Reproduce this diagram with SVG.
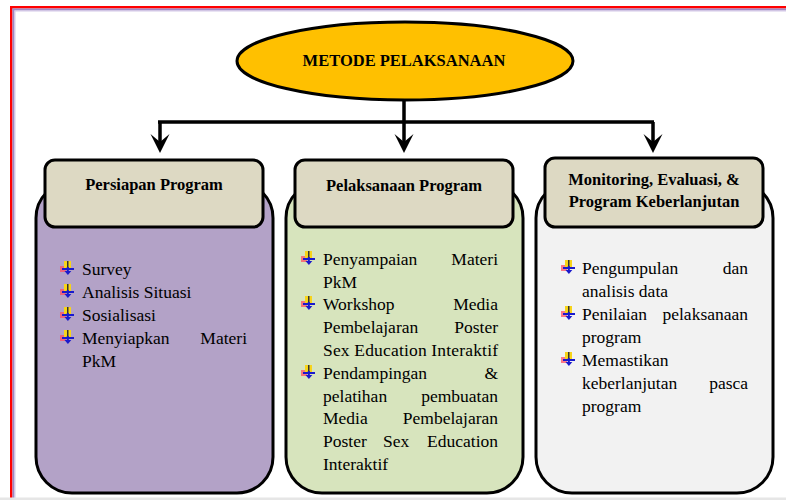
<svg xmlns="http://www.w3.org/2000/svg" xmlns:xlink="http://www.w3.org/1999/xlink" width="786" height="500" viewBox="0 0 786 500">
<style>
.hdr{fill:#DDD9C3;stroke:#000;stroke-width:3}
.box{stroke:#000;stroke-width:3}
.ht{font-family:"Liberation Serif","Times New Roman",serif;font-weight:bold;font-size:16.5px;fill:#000;text-anchor:middle}
.bt{font-family:"Liberation Serif","Times New Roman",serif;font-size:17.5px;fill:#000}
.e{text-anchor:end}
.conn{stroke:#000;stroke-width:3.5;fill:none}
</style>
<defs>
<g id="bul">
<rect x="1" y="-9" width="6" height="6" fill="#ff4f64" opacity="0.75"/>
<rect x="5" y="-14" width="7" height="7" fill="#f7d41a"/>
<rect x="8" y="-14" width="1.5" height="7" fill="#333"/>
<rect x="3" y="-7" width="12" height="2" fill="#1a1acc"/>
<rect x="7.8" y="-8" width="2" height="5" fill="#1a1acc"/>
<path d="M5.5,-4 L12.3,-4 L8.9,0 Z" fill="#1a1acc"/>
</g>
</defs>
<rect x="0" y="0" width="786" height="500" fill="#fff"/>
<!-- page border -->
<rect x="10" y="6" width="776" height="2.5" fill="#ff0000"/>
<rect x="10" y="6" width="2.5" height="494" fill="#ff0000"/>
<rect x="12.5" y="8.5" width="773.5" height="2" fill="#9e88c4"/>
<rect x="12.5" y="8.5" width="2" height="491.5" fill="#9e88c4"/>
<rect x="14.5" y="10.5" width="771.5" height="1" fill="#d4c8e8"/>
<rect x="14.5" y="10.5" width="1" height="489.5" fill="#d4c8e8"/>
<rect x="0" y="497.5" width="786" height="2.5" fill="#e6e6e6"/>

<g id="connectors">
<path class="conn" d="M404,100 V122 M158,122 H654 M160,122 V144 M404,122 V144 M653,122 V144"/>
<path d="M160,153 L150.5,134 L160,142 L169.5,134 Z" fill="#000"/>
<path d="M404,153 L394.5,134 L404,142 L413.5,134 Z" fill="#000"/>
<path d="M653,153 L643.5,134 L653,142 L662.5,134 Z" fill="#000"/>
</g>

<g id="root">
<ellipse cx="405" cy="61" rx="168" ry="39" fill="#FFC000" stroke="#000" stroke-width="3"/>
<text class="ht" x="404" y="66">METODE PELAKSANAAN</text>
</g>

<g id="persiapan">
<rect class="box" x="36" y="182" width="237" height="311" rx="36" ry="36" fill="#B3A2C7"/>
<rect class="hdr" x="45" y="160" width="218" height="67" rx="10" ry="10"/>
<text class="ht" x="154" y="190">Persiapan Program</text>
<use xlink:href="#bul" x="59" y="275"/>
<use xlink:href="#bul" x="59" y="298"/>
<use xlink:href="#bul" x="59" y="321"/>
<use xlink:href="#bul" x="59" y="344"/>
<text class="bt" x="82" y="275">Survey</text>
<text class="bt" x="82" y="298">Analisis Situasi</text>
<text class="bt" x="82" y="321">Sosialisasi</text>
<text class="bt" x="82" y="344">Menyiapkan</text>
<text class="bt e" x="247" y="344">Materi</text>
<text class="bt" x="82" y="367">PkM</text>
</g>

<g id="pelaksanaan">
<rect class="box" x="286" y="182" width="237" height="311" rx="36" ry="36" fill="#D7E4BD"/>
<rect class="hdr" x="295" y="160" width="218" height="67" rx="10" ry="10"/>
<text class="ht" x="404" y="191">Pelaksanaan Program</text>
<use xlink:href="#bul" x="300" y="265"/>
<use xlink:href="#bul" x="300" y="310"/>
<use xlink:href="#bul" x="300" y="379"/>
<text class="bt" x="323" y="265">Penyampaian</text>
<text class="bt e" x="498" y="265">Materi</text>
<text class="bt" x="323" y="288">PkM</text>
<text class="bt" x="323" y="310">Workshop</text>
<text class="bt e" x="498" y="310">Media</text>
<text class="bt" x="323" y="333">Pembelajaran</text>
<text class="bt e" x="498" y="333">Poster</text>
<text class="bt" x="323" y="356" textLength="175" lengthAdjust="spacing">Sex Education Interaktif</text>
<text class="bt" x="323" y="379">Pendampingan</text>
<text class="bt e" x="498" y="379">&amp;</text>
<text class="bt" x="323" y="402">pelatihan</text>
<text class="bt e" x="498" y="402">pembuatan</text>
<text class="bt" x="323" y="424">Media</text>
<text class="bt e" x="498" y="424">Pembelajaran</text>
<text class="bt" x="323" y="447">Poster</text>
<text class="bt" x="383" y="447">Sex</text>
<text class="bt e" x="498" y="447">Education</text>
<text class="bt" x="323" y="470">Interaktif</text>
</g>

<g id="monitoring">
<rect class="box" x="536" y="182" width="237" height="311" rx="36" ry="36" fill="#F2F2F2"/>
<rect class="hdr" x="545" y="158" width="218" height="69" rx="10" ry="10"/>
<text class="ht" x="654" y="185">Monitoring, Evaluasi, &amp;</text>
<text class="ht" x="654" y="207">Program Keberlanjutan</text>
<use xlink:href="#bul" x="560" y="274"/>
<use xlink:href="#bul" x="560" y="320"/>
<use xlink:href="#bul" x="560" y="366"/>
<text class="bt" x="582" y="274">Pengumpulan</text>
<text class="bt e" x="748" y="274">dan</text>
<text class="bt" x="582" y="297">analisis data</text>
<text class="bt" x="582" y="320">Penilaian</text>
<text class="bt e" x="748" y="320">pelaksanaan</text>
<text class="bt" x="582" y="343">program</text>
<text class="bt" x="582" y="366">Memastikan</text>
<text class="bt" x="582" y="389">keberlanjutan</text>
<text class="bt e" x="748" y="389">pasca</text>
<text class="bt" x="582" y="412">program</text>
</g>
</svg>
